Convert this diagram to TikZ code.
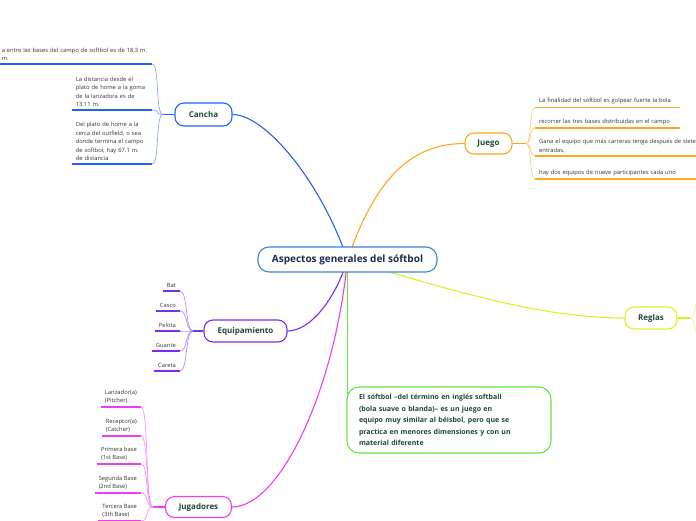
\documentclass[tikz,border=0pt]{standalone}
\usepackage{fontspec}
\setmainfont{Open Sans}
\usetikzlibrary{backgrounds,calc}
\definecolor{cblue}{RGB}{34,96,250}
\definecolor{cctr}{RGB}{58,134,214}
\definecolor{corange}{RGB}{255,166,30}
\definecolor{clime}{RGB}{215,242,40}
\definecolor{cgreen}{RGB}{100,230,60}
\definecolor{cpurple}{RGB}{122,44,240}
\definecolor{cmagenta}{RGB}{240,60,240}
\definecolor{labelc}{RGB}{28,72,58}
\definecolor{ctext}{RGB}{30,42,78}
\definecolor{subc}{RGB}{50,50,50}
\begin{document}
\begin{tikzpicture}[x=1pt,y=-1pt,
  topic/.style={draw=#1, line width=1.1pt, fill=white, rounded corners=9pt, text=labelc,
     font=\bfseries\fontsize{8}{9}\selectfont, inner sep=0pt},
  sub/.style={text=subc, font=\fontsize{5.8}{8.5}\selectfont, inner xsep=4pt, inner ysep=3pt, align=left},
  uline/.style={line width=1.5pt, draw=#1},
  forkline/.style={line width=0.7pt, draw=#1!55},
  edgeline/.style={line width=1.1pt, draw=#1}]
\useasboundingbox (0,0) rectangle (696,520);
\clip (0,0) rectangle (696,520);

% central
\node[topic=cctr, minimum width=179pt, minimum height=25pt, rounded corners=11pt, text=ctext,
  font=\bfseries\fontsize{10}{12}\selectfont] (ctr) at (347.5,259.5) {Aspectos generales del sóftbol};

% main topics
\node[topic=cblue, minimum width=57pt, minimum height=23pt] (cancha) at (203.5,114.5) {Cancha};
\node[topic=corange, minimum width=47pt, minimum height=21pt] (juego) at (488.5,143.5) {Juego};
\node[topic=clime, minimum width=52pt, minimum height=22pt] (reglas) at (651,318) {Reglas};
\node[topic=cpurple, minimum width=83pt, minimum height=22pt] (equip) at (245.5,331) {Equipamiento};
\node[topic=cmagenta, minimum width=66pt, minimum height=21pt] (jug) at (198.5,507) {Jugadores};
\node[draw=cgreen, line width=1.1pt, fill=white, rounded corners=12pt, minimum width=204pt,
  minimum height=66pt, text width=180pt, inner xsep=12pt, align=left, text=labelc,
  font=\bfseries\fontsize{7}{11.5}\selectfont] (box) at (449,420)
  {El sóftbol –del término en inglés softball\\(bola suave o blanda)– es un juego en\\equipo muy similar al béisbol, pero que se\\practica en menores dimensiones y con un\\material diferente};

% Cancha subtopics
\node[sub, anchor=south east, text width=148pt, inner xsep=2pt] (c1) at (152,64)
  {a entre las bases del campo de softbol es de 18,3 m.\\m.};
\node[sub, anchor=south east, text width=72pt] (c2) at (152,110)
  {La distancia desde el\\plato de home a la goma\\de la lanzadora es de\\13.11 m.};
\node[sub, anchor=south east, text width=72pt] (c3) at (152,164)
  {Del plato de home a la\\cerca del outfield, o sea\\donde termina el campo\\de softbol, hay 67.1 m.\\de distancia};
\coordinate (cf) at (163,114.5);

% Juego subtopics
\node[sub, anchor=south west, text width=137pt] (j1) at (535,107.5)
  {La finalidad del sóftbol es golpear fuerte la bola};
\node[sub, anchor=south west, text width=137pt] (j2) at (535,128)
  {recorrer las tres bases distribuidas en el campo};
\node[sub, anchor=south west, text width=185pt] (j3) at (535,156)
  {Gana el equipo que más carreras tenga después de siete\\entradas,};
\node[sub, anchor=south west, text width=153pt] (j4) at (535,179)
  {hay dos equipos de nueve participantes cada uno};
\coordinate (jf) at (526,143.5);

% Reglas fork
\coordinate (rf) at (690,318);
\coordinate (r1) at (702,280);
\coordinate (r2) at (702,356);

% Equipamiento subtopics
\node[sub, anchor=south east] (e1) at (180,291) {Bat};
\node[sub, anchor=south east] (e2) at (180,311) {Casco};
\node[sub, anchor=south east] (e3) at (180,331) {Pelota};
\node[sub, anchor=south east] (e4) at (180,351) {Guante};
\node[sub, anchor=south east] (e5) at (180,371) {Careta};
\coordinate (ef) at (193,331);

% Jugadores subtopics
\node[sub, anchor=south east] (p1) at (141,407) {Lanzador(a)\\(Pitcher).};
\node[sub, anchor=south east] (p2) at (141,436) {Receptor(a)\\(Catcher)};
\node[sub, anchor=south east] (p3) at (141,464) {Primera base\\(1st Base)};
\node[sub, anchor=south east] (p4) at (141,493) {Segunda Base\\(2nd Base)};
\node[sub, anchor=south east] (p5) at (141,521) {Tercera Base\\(3th Base)};
\coordinate (pf) at (153,507);

\begin{pgfonlayer}{background}
  % main connectors
  \draw[edgeline=cblue] (ctr.center) .. controls (320,180) and (265,114.5) .. (cancha.east);
  \draw[edgeline=corange] (ctr.center) .. controls (375,180) and (410,143.5) .. (juego.west);
  \draw[edgeline=clime] (ctr.center) .. controls (450,290) and (540,318) .. (reglas.west);
  \draw[edgeline=cpurple] (ctr.center) .. controls (335,300) and (310,331) .. (equip.east);
  \draw[edgeline=cmagenta] (ctr.center) .. controls (335,390) and (280,507) .. (jug.east);
  \draw[edgeline=cgreen] (ctr.center) -- (ctr.center |- box.west);

  % Cancha
  \draw[uline=cblue] (cancha.west) -- (cf);
  \foreach \n in {c1,c2,c3}{
    \draw[uline=cblue] (\n.south west) -- (\n.south east);
    \draw[forkline=cblue] (cf) .. controls +(-8,0) and +(8,0) .. (\n.south east);
  }
  % Juego
  \draw[uline=corange] (juego.east) -- (jf);
  \foreach \n in {j1,j2,j3,j4}{
    \draw[uline=corange] (\n.south west) -- (\n.south east);
    \draw[forkline=corange] (jf) .. controls +(6,0) and +(-6,0) .. (\n.south west);
  }
  % Reglas
  \draw[uline=clime] (reglas.east) -- (rf);
  \draw[forkline=clime] (rf) .. controls +(8,0) and +(-6,0) .. (r1);
  \draw[forkline=clime] (rf) .. controls +(8,0) and +(-6,0) .. (r2);
  % Equipamiento
  \draw[uline=cpurple] (equip.west) -- (ef);
  \foreach \n in {e1,e2,e3,e4,e5}{
    \draw[uline=cpurple] (\n.south west) -- (\n.south east);
    \draw[forkline=cpurple] (ef) .. controls +(-8,0) and +(8,0) .. (\n.south east);
  }
  % Jugadores
  \draw[uline=cmagenta] (jug.west) -- (pf);
  \foreach \n in {p1,p2,p3,p4,p5}{
    \draw[uline=cmagenta] (\n.south west) -- (\n.south east);
    \draw[forkline=cmagenta] (pf) .. controls +(-8,0) and +(8,0) .. (\n.south east);
  }
\end{pgfonlayer}
\end{tikzpicture}
\end{document}
